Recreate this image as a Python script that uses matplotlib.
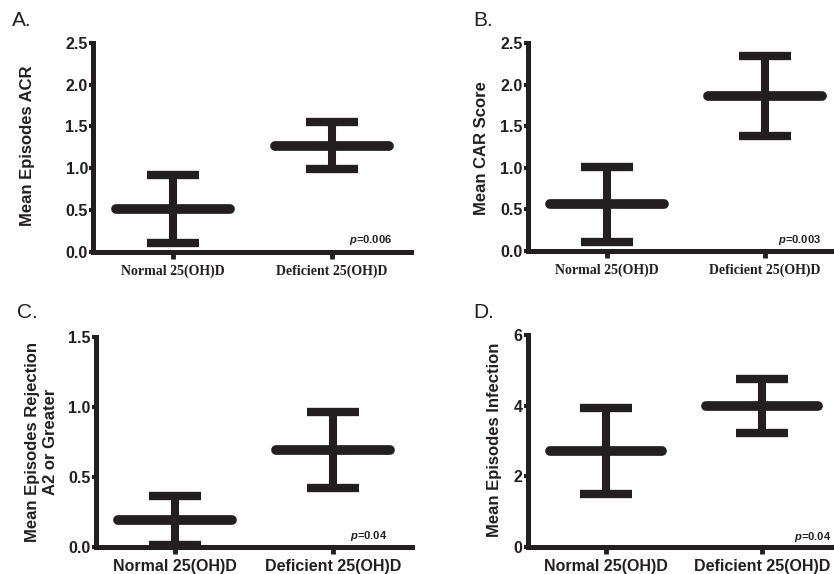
import matplotlib
matplotlib.use("Agg")
import matplotlib.pyplot as plt

plt.rcParams["mathtext.fontset"] = "custom"
plt.rcParams["mathtext.it"] = "Liberation Sans:italic:bold"
plt.rcParams["mathtext.rm"] = "Liberation Sans:bold"

INK = "#231f20"

groups = ["Normal 25(OH)D", "Deficient 25(OH)D"]

# mean and SEM
acr_mean = [0.51, 1.27]
acr_err = [0.41, 0.28]
car_mean = [0.56, 1.86]
car_err = [0.45, 0.48]
rej_mean = [0.19, 0.69]
rej_err = [0.175, 0.27]
inf_mean = [2.70, 3.99]
inf_err = [1.22, 0.76]

p_values = ["0.006", "0.003", "0.04", "0.04"]

fig = plt.figure(figsize=(8.34, 5.74), dpi=100)

panels = [
    # letter, rect, mean, err, ylim, yticks, ylabel, ylabel pos, p pos, serif xticks
    ("A.", [0.1121, 0.5615, 0.3813, 0.3641], acr_mean, acr_err, 2.5,
     [0, 0.5, 1.0, 1.5, 2.0, 2.5], "Mean Episodes ACR", (-0.209, 0.506),
     (0.939, 0.056), True, (12, 20)),
    ("B.", [0.6331, 0.5632, 0.3789, 0.3616], car_mean, car_err, 2.5,
     [0, 0.5, 1.0, 1.5, 2.0, 2.5], "Mean CAR Score", (-0.146, 0.497),
     (0.926, 0.052), True, (473, 20)),
    ("C.", [0.1151, 0.0476, 0.3789, 0.3659], rej_mean, rej_err, 1.5,
     [0, 0.5, 1.0, 1.5], "Mean Episodes Rejection\nA2 or Greater", (-0.171, 0.499),
     (0.92, 0.051), False, (17, 312)),
    ("D.", [0.6331, 0.0476, 0.3741, 0.3688], inf_mean, inf_err, 6,
     [0, 2, 4, 6], "Mean Episodes Infection", (-0.106, 0.504),
     (0.973, 0.047), False, (473, 312)),
]

x = [1, 2]

for i, (letter, rect, mean, err, ytop, yticks, ylabel, ylpos, ppos, serif, lpos) in enumerate(panels):
    ax = fig.add_axes(rect)
    ax.hlines(mean, [v - 0.36 for v in x], [v + 0.36 for v in x],
              color=INK, lw=7, capstyle="round", zorder=3)
    ax.errorbar(x, mean, yerr=err, fmt="none", ecolor=INK, elinewidth=5.8,
                capsize=19, capthick=6, zorder=3)
    ax.set_xlim(0.5, 2.5)
    ax.set_ylim(0, ytop)
    ax.set_yticks(yticks)
    if ytop == 6:
        ax.set_yticklabels([f"{t:d}" for t in yticks])
    else:
        ax.set_yticklabels([f"{t:.1f}" for t in yticks])
    ax.set_xticks(x)
    if serif:
        ax.set_xticklabels(groups, family="Liberation Serif", fontweight="bold",
                           fontsize=10)
    else:
        ax.set_xticklabels(groups, family="Liberation Sans", fontweight="bold",
                           fontsize=11.5)
    for lab in ax.get_yticklabels():
        lab.set_family("Liberation Sans")
        lab.set_fontweight("bold")
        lab.set_fontsize(11.5)
    for s in ["top", "right"]:
        ax.spines[s].set_visible(False)
    for s in ["left", "bottom"]:
        ax.spines[s].set_linewidth(3.6)
        ax.spines[s].set_color(INK)
    ax.tick_params(axis="y", length=3, width=3, pad=1, colors=INK)
    ax.tick_params(axis="x", length=5, width=3.5, pad=4, colors=INK)
    ax.text(ylpos[0], ylpos[1], ylabel, transform=ax.transAxes, rotation=90,
            ha="center", va="center", family="Liberation Sans",
            fontweight="bold", fontsize=12, linespacing=1.25, color=INK)
    ax.text(ppos[0], ppos[1], r"$p$=" + p_values[i], transform=ax.transAxes,
            ha="right", va="center", family="Liberation Sans",
            fontweight="bold", fontsize=8, color=INK)
    fig.text(lpos[0] / 834, 1 - lpos[1] / 574, letter, ha="left", va="center",
             family="Liberation Sans", fontsize=15, color=INK)

fig.savefig("out.png", dpi=100, facecolor="white")
